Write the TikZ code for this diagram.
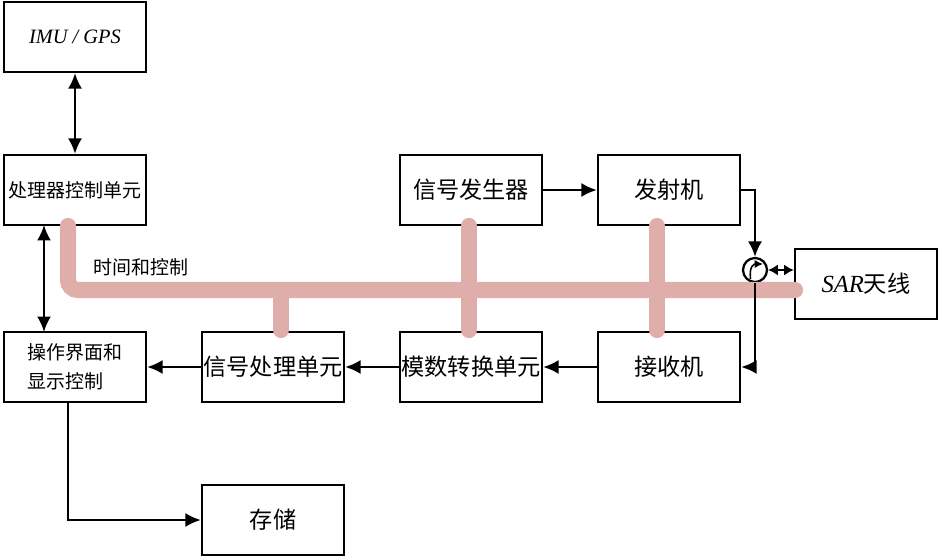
\documentclass[tikz,border=0pt]{standalone}
\usepackage{fontspec}
\setmainfont{Liberation Serif}
\newfontfamily\cjk{Noto Sans CJK SC}
\usetikzlibrary{arrows.meta}

\definecolor{buspink}{RGB}{224,174,170}

\begin{document}
\begin{tikzpicture}[x=0.025cm, y=-0.025cm, line width=1.6pt, >={Latex[length=11pt,width=10pt]},
	blk/.style={draw, line width=1.6pt, minimum width=3.55cm, minimum height=1.75cm, inner sep=0pt, font=\cjk\fontsize{16.5}{19}\selectfont},
	small/.style={font=\cjk\fontsize{13.5}{20.5}\selectfont},
	bus/.style={buspink, line width=11.5pt, line cap=round}]
	\useasboundingbox (0,0) rectangle (939,557);

	% blocks
	\node[blk, font=\rmfamily\itshape\fontsize{14.5}{16}\selectfont] (imu) at (75,37) {IMU / GPS};
	\node[blk, small] (cpu) at (75,190) {处理器控制单元};
	\node[blk, small, align=left] (ui) at (75,367) {操作界面和\\显示控制};
	\node[blk] (sp) at (273,367) {信号处理单元};
	\node[blk] (adc) at (471,367) {模数转换单元};
	\node[blk] (rx) at (669,367) {接收机};
	\node[blk] (gen) at (471,190) {信号发生器};
	\node[blk] (tx) at (669,190) {发射机};
	\node[blk] (ant) at (866,284) {{\rmfamily\itshape\fontsize{17.5}{19}\selectfont SAR}天线};
	\node[blk] (mem) at (273,520) {存储};

	% circulator
	\node[draw, circle, minimum size=0.6cm, inner sep=0pt] (circ) at (755,270) {};
	\draw[-{Latex[length=6pt,width=6pt]}, line width=1.1pt] (750.5,279) .. controls (749,266) and (754,264) .. (763,264);

	%define coordinates for bends
	\coordinate (c1) at (755,190); \coordinate (c2) at (755,367);
	\coordinate (c3) at (68,520);

	% bus (time and control)
	\draw[bus, rounded corners=0.25cm] (68,226) -- (68,290) -- (795,290);
	\foreach \x / \y in {281/290,469/226,657/226}{
	\draw[bus] (\x,\y) -- (\x,330);}
	\node[small, anchor=west] (tc) at (88,267) {时间和控制};

	% connectors
	\draw[<->] (imu.south) -- (cpu.north);
	\draw[<->] (44,225) -- (44,332);
	\draw[->] (gen) -- (tx);
	\draw[->] (tx.east) -- (c1) -- (circ.north);
	\draw[{Latex[length=7pt,width=8pt]}-{Latex[length=7pt,width=8pt]}] (circ.east) -- (ant.west |- circ.east);
	\draw[->] (circ.south) -- (c2) -- (rx.east);
	\draw[->] (rx) -- (adc);
	\draw[->] (adc) -- (sp);
	\draw[->] (sp) -- (ui);
	\draw[->] (ui.south -| c3) -- (c3) -- (mem.west);

\end{tikzpicture}
\end{document}
